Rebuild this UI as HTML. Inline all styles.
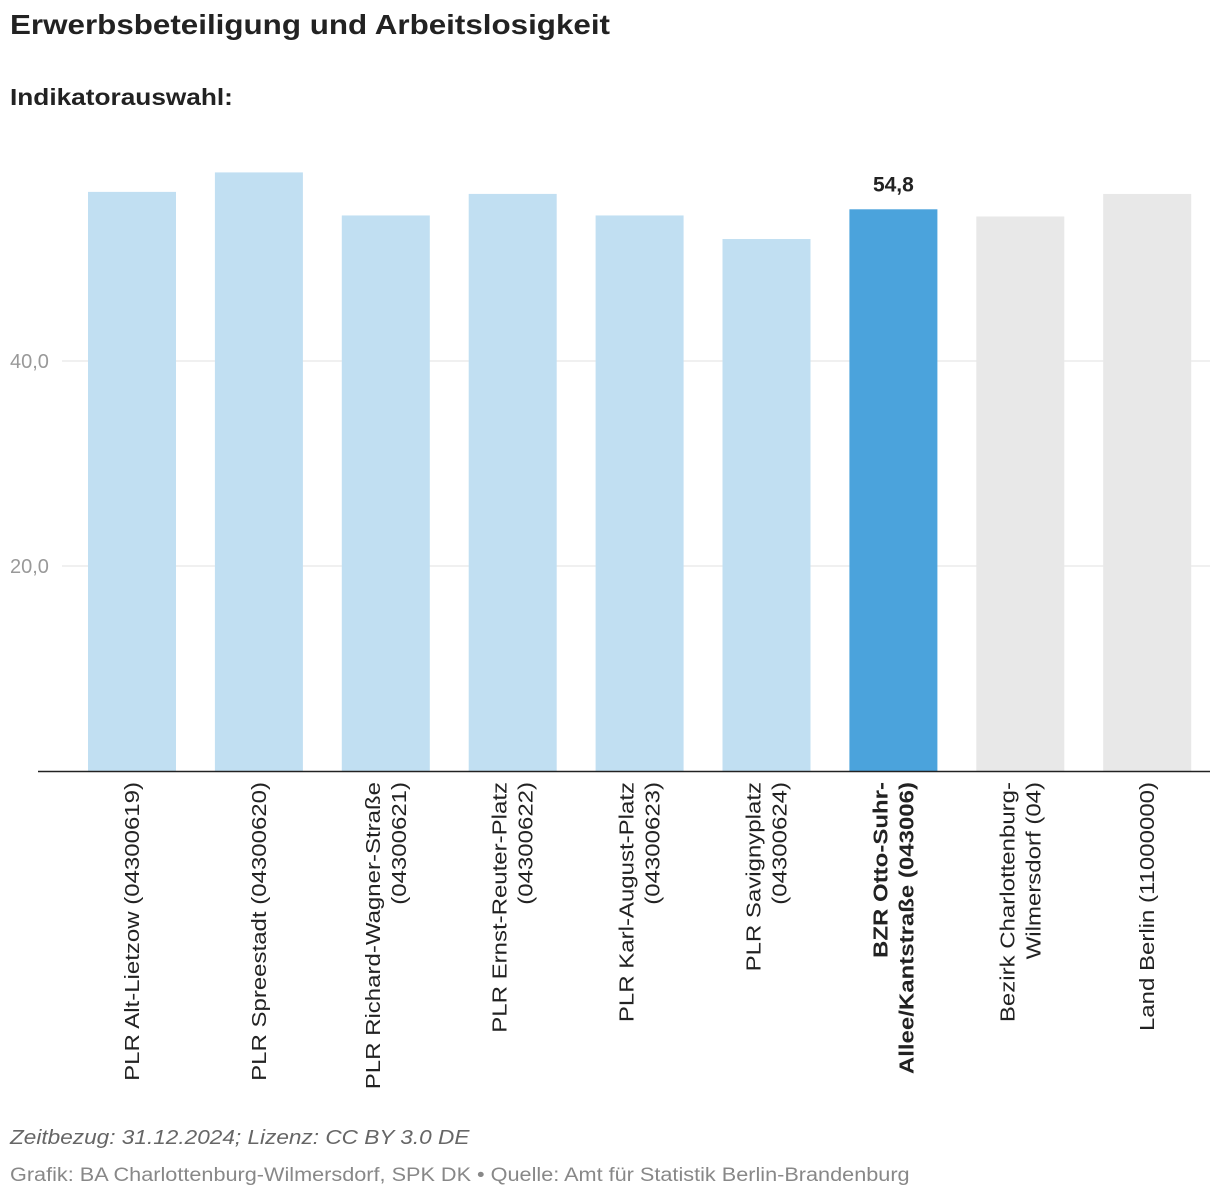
<!DOCTYPE html>
<html><head><meta charset="utf-8"><style>
body{margin:0;background:#fff;font-family:"Liberation Sans",sans-serif;width:1220px;height:1200px;overflow:hidden;position:relative}
.t{position:absolute;left:10px;white-space:nowrap;transform-origin:0 0}
</style></head><body>
<div class="t" style="top:9px;font-size:28px;font-weight:bold;color:#222;transform:scaleX(1.12)">Erwerbsbeteiligung und Arbeitslosigkeit</div>
<div class="t" style="top:84px;font-size:23px;font-weight:bold;color:#222;transform:scaleX(1.14)">Indikatorauswahl:</div>
<svg id="chart" width="1220" height="1100" style="position:absolute;left:0;top:0"></svg>
<div class="t" style="top:1127px;font-size:20px;font-style:italic;color:#666;transform:scaleX(1.13)">Zeitbezug: 31.12.2024; Lizenz: CC BY 3.0 DE</div>
<div class="t" style="top:1165px;font-size:19px;color:#888;transform:scaleX(1.14)">Grafik: BA Charlottenburg-Wilmersdorf, SPK DK • Quelle: Amt für Statistik Berlin-Brandenburg</div>
<script>
const categories=[["PLR Alt-Lietzow (04300619)"],["PLR Spreestadt (04300620)"],["PLR Richard-Wagner-Straße","(04300621)"],["PLR Ernst-Reuter-Platz","(04300622)"],["PLR Karl-August-Platz","(04300623)"],["PLR Savignyplatz","(04300624)"],["BZR Otto-Suhr-","Allee/Kantstraße (043006)"],["Bezirk Charlottenburg-","Wilmersdorf (04)"],["Land Berlin (11000000)"]];
const values=[56.5,58.4,54.2,56.3,54.2,51.9,54.8,54.1,56.3];
const barTypes=["plr","plr","plr","plr","plr","plr","bzr","ref","ref"];
const yTicks=[20,40];
const yTickLabels=["20,0","40,0"];
const highlightIndex=6;
const highlightLabel="54,8";
const NS="http://www.w3.org/2000/svg";
const svg=document.getElementById('chart');
const y0=771,scale=10.25;
function y(v){return y0-v*scale;}
const step=126.9,bw=88,x0=88;
function x(i){return x0+i*step;}
function mk(tag,attrs){const e=document.createElementNS(NS,tag);for(const k in attrs)e.setAttribute(k,attrs[k]);svg.appendChild(e);return e;}
yTicks.forEach((t,i)=>{
  const g=mk('line',{x1:62,x2:1210,y1:y(t),y2:y(t),stroke:'#e2e2e2','stroke-width':1});
  
  
  const tx=mk('text',{x:10,y:y(t)+7,'font-size':20,fill:'#999','font-family':'Liberation Sans, sans-serif'});
  tx.textContent=yTickLabels[i];
  
  
});
const colors={plr:'#c1dff2',bzr:'#4ba3dc',ref:'#e8e8e8'};
values.forEach((v,i)=>{
  const r=mk('rect',{x:x(i),y:y(v),width:bw,height:y0-y(v),fill:colors[barTypes[i]]});
  
  
  const cx=x(i)+bw/2;
  const lines=categories[i];
  const n=lines.length;
  lines.forEach((ln,j)=>{
    const bx=cx+7+(j-(n-1)/2)*26;
    const t=mk('text',{x:0,y:0,transform:`translate(${bx},782) rotate(-90)`,'text-anchor':'end','font-size':20,fill:'#222','font-weight':i===highlightIndex?'bold':'normal','font-family':'Liberation Sans, sans-serif'});
    t.textContent=ln;
    
    
    const w=t.getComputedTextLength();
    t.setAttribute('textLength',w*1.2);
    t.setAttribute('lengthAdjust','spacingAndGlyphs');
  });
});
const vl=mk('text',{x:x(highlightIndex)+bw/2,y:y(values[highlightIndex])-18,'text-anchor':'middle','font-size':21,'font-weight':'bold',fill:'#222','font-family':'Liberation Sans, sans-serif'});
vl.textContent=highlightLabel;


const ax=mk('line',{x1:38,x2:1210,y1:y0+0.5,y2:y0+0.5,stroke:'#222','stroke-width':1.5});


</script>
</body></html>
